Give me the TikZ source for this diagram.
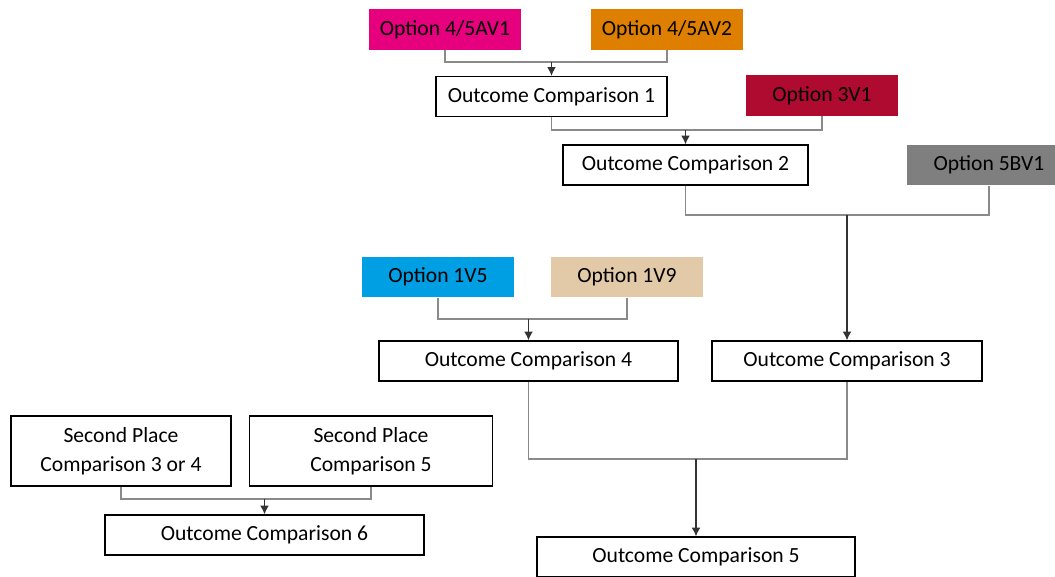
\documentclass[tikz,border=0pt]{standalone}
\usepackage{fontspec}
\setmainfont{Carlito}

\definecolor{optMagenta}{HTML}{E6007E}
\definecolor{optOrange}{HTML}{DF7F00}
\definecolor{optCrimson}{HTML}{AF0A30}
\definecolor{optGrey}{HTML}{7F7F7F}
\definecolor{optBlue}{HTML}{009FE3}
\definecolor{optBeige}{HTML}{E2C9A8}
\definecolor{linkGrey}{HTML}{8A8A8A}

\tikzset{
    option/.style={fill=#1, minimum width=3.04cm, minimum height=0.82cm, inner sep=0pt},
    outcome/.style={draw, line width=0.8pt, minimum height=0.8cm, inner sep=0pt},
    link/.style={draw=linkGrey, line width=0.6pt},
    feed/.style={draw=black!80, line width=0.6pt, -{Latex[length=5pt,width=5pt]}}
}
\usetikzlibrary{arrows.meta}

\begin{document}
\begin{tikzpicture}[x=0.02cm, y=-0.02cm, font=\fontsize{12.3}{16.7}\selectfont]

    % Keep the page the same size as the layout grid
    \useasboundingbox (0,0) rectangle (1055,577);

    % Coloured option boxes (5BV1 runs off the right edge)
    \node[option=optMagenta] (av1) at (445,29.5) {Option 4/5AV1};
    \node[option=optOrange]  (av2) at (667,29.5) {Option 4/5AV2};
    \node[option=optCrimson] (v31) at (822,95.5) {Option 3V1};
    \node[option=optGrey, minimum width=3.28cm] (bv1) at (989,165) {Option 5BV1};
    \node[option=optBlue]  (v15) at (438,277) {Option 1V5};
    \node[option=optBeige] (v19) at (627,277) {Option 1V9};

    % Outcome comparison boxes
    \node[outcome, minimum width=4.62cm] (oc1) at (551.5,96.5) {Outcome Comparison 1};
    \node[outcome, minimum width=4.9cm]  (oc2) at (685.5,165) {Outcome Comparison 2};
    \node[outcome, minimum width=5.4cm]  (oc3) at (847,361) {Outcome Comparison 3};
    \node[outcome, minimum width=5.98cm] (oc4) at (528.5,361) {Outcome Comparison 4};
    \node[outcome, minimum width=6.36cm] (oc5) at (696,557) {Outcome Comparison 5};
    \node[outcome, minimum width=6.38cm] (oc6) at (264.5,535) {Outcome Comparison 6};

    % Runner-up boxes
    \node[outcome, minimum width=4.4cm, minimum height=1.4cm, align=center] (sp34) at (121,451)
        {Second Place\\Comparison 3 or 4};
    \node[outcome, minimum width=4.86cm, minimum height=1.4cm, align=center] (sp5) at (371,451)
        {Second Place\\Comparison 5};

    % Junction points where the pairs meet
    \coordinate (j1) at (551.5,62);
    \coordinate (j2) at (685.5,130);
    \coordinate (j3) at (847,215);
    \coordinate (j4) at (528.5,319);
    \coordinate (j5) at (696,459);
    \coordinate (j6) at (264.5,499);

    % Pair each two inputs, then feed the result down
    \draw[link] (av1.south) |- (j1) -| (av2.south);
    \draw[feed] (j1) -- (oc1.north);

    \draw[link] (oc1.south) |- (j2) -| (v31.south);
    \draw[feed] (j2) -- (oc2.north);

    \draw[link] (oc2.south) |- (j3) -| (bv1.south);
    \draw[feed] (j3) -- (oc3.north);

    \draw[link] (v15.south) |- (j4) -| (v19.south);
    \draw[feed] (j4) -- (oc4.north);

    \draw[link] (oc4.south) |- (j5) -| (oc3.south);
    \draw[feed] (j5) -- (oc5.north);

    \draw[link] (sp34.south) |- (j6) -| (sp5.south);
    \draw[feed] (j6) -- (oc6.north);

\end{tikzpicture}
\end{document}
